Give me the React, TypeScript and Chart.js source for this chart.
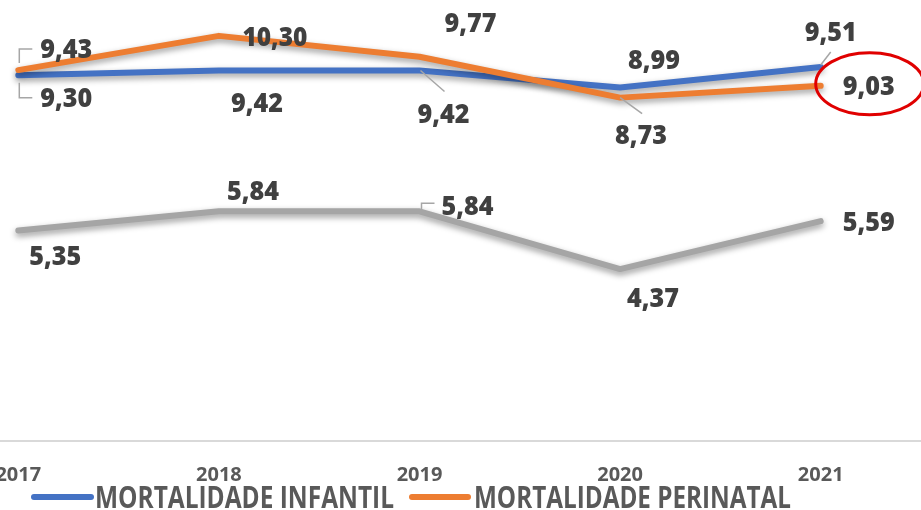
import React, { useEffect, useRef } from "react";
import { Chart, registerables } from "chart.js";

Chart.register(...registerables);

const categories = ["2017", "2018", "2019", "2020", "2021"];
const infantil = [9.3, 9.42, 9.42, 8.99, 9.51];
const perinatal = [9.43, 10.3, 9.77, 8.73, 9.03];
const neonatal = [5.35, 5.84, 5.84, 4.37, 5.59];

const seriesNames = ["MORTALIDADE INFANTIL", "MORTALIDADE PERINATAL", "MORTALIDADE NEONATAL"];
const seriesColors = ["#4472C4", "#ED7D31", "#A5A5A5"];

// label layout (offsets from each point, in px) — styling only
const labelOffsets = [
  [[48, 24], [38, 34], [24, 45], [34, -26], [10, -34]],
  [[48, -20], [56, 2], [51, -32], [21, 39], [48, 1]],
  [[37, 27], [34, -19], [48, -4], [33, 30], [48, 2]],
];
const leaders: (number[][] | null)[][] = [
  [[[1, 7.5], [1, 22.5], [14, 22.5]], null, [[1, 0], [25, 21]], null, [[0, -2], [10, -15]]],
  [[[14, -21], [1, -21], [1, -7]], null, null, [[0, 0], [22, 16]], null],
  [null, null, [[2, -1], [2, -8], [15, -8]], null, null],
];

const fmt = (v: number) => v.toFixed(2).replace(".", ",");

const FONT = "'Open Sans', 'DejaVu Sans', sans-serif";

const decorPlugin = {
  id: "decor",
  beforeDatasetDraw(chart: any) {
    const ctx = chart.ctx;
    ctx.save();
    ctx.shadowColor = "rgba(0,0,0,0.4)";
    ctx.shadowBlur = 6;
    ctx.shadowOffsetY = 3;
  },
  afterDatasetDraw(chart: any) {
    chart.ctx.restore();
  },
  afterDatasetsDraw(chart: any) {
    const ctx = chart.ctx;
    ctx.save();
    chart.data.datasets.forEach((ds: any, di: number) => {
      const meta = chart.getDatasetMeta(di);
      meta.data.forEach((pt: any, i: number) => {
        const lead = leaders[di][i];
        if (lead) {
          ctx.beginPath();
          ctx.strokeStyle = "#A6A6A6";
          ctx.lineWidth = 1.5;
          lead.forEach((p, k) => {
            if (k === 0) ctx.moveTo(pt.x + p[0], pt.y + p[1]);
            else ctx.lineTo(pt.x + p[0], pt.y + p[1]);
          });
          ctx.stroke();
        }
        const [dx, dy] = labelOffsets[di][i];
        const txt = fmt(ds.data[i]);
        ctx.font = `800 27px ${FONT}`;
        ctx.fillStyle = "#404040";
        ctx.textAlign = "center";
        ctx.textBaseline = "middle";
        const w = ctx.measureText(txt).width;
        const target = txt.length > 4 ? 65 : 52;
        ctx.save();
        ctx.translate(pt.x + dx, pt.y + dy);
        ctx.scale(Math.min(1.05, target / w), 1);
        ctx.fillText(txt, 0, 0);
        ctx.restore();
      });
    });
    // red highlight ellipse around last perinatal label
    const m = chart.getDatasetMeta(1);
    const last = m.data[m.data.length - 1];
    ctx.beginPath();
    ctx.strokeStyle = "#E00000";
    ctx.lineWidth = 3;
    ctx.ellipse(last.x + 49, last.y - 2, 54, 31, 0, 0, Math.PI * 2);
    ctx.stroke();
    ctx.restore();
  },
  afterDraw(chart: any) {
    const ctx = chart.ctx;
    ctx.save();
    const ox = 82;
    const items = [
      { name: seriesNames[0], color: seriesColors[0], l0: 34, l1: 91, t0: 95, t1: 394 },
      { name: seriesNames[1], color: seriesColors[1], l0: 412, l1: 468, t0: 474, t1: 791 },
    ];
    const cy = 528;
    items.forEach((it) => {
      ctx.beginPath();
      ctx.strokeStyle = it.color;
      ctx.lineWidth = 6;
      ctx.lineCap = "round";
      ctx.moveTo(it.l0 + ox, cy);
      ctx.lineTo(it.l1 + ox, cy);
      ctx.stroke();
      ctx.font = `bold 30px ${FONT}`;
      ctx.fillStyle = "#595959";
      ctx.textAlign = "left";
      ctx.textBaseline = "alphabetic";
      const w = ctx.measureText(it.name).width;
      const sx = (it.t1 - it.t0) / w;
      ctx.save();
      ctx.translate(it.t0 + ox, cy + 10.5);
      ctx.scale(sx, 1);
      ctx.fillText(it.name, 0, 0);
      ctx.restore();
    });
    ctx.restore();
  },
};

export default function App() {
  const ref = useRef<HTMLCanvasElement>(null);
  useEffect(() => {
    if (!ref.current) return;
    const mk = (label: string, data: number[], color: string, order: number) => ({
      label,
      data,
      borderColor: color,
      backgroundColor: color,
      borderWidth: 6,
      pointRadius: 0,
      pointHoverRadius: 0,
      tension: 0,
      borderCapStyle: "round",
      borderJoinStyle: "round",
      fill: false,
      order,
    });
    const chart = new Chart(ref.current, {
      type: "line",
      data: {
        labels: categories,
        datasets: [
          mk(seriesNames[0], infantil, seriesColors[0], 2),
          mk(seriesNames[1], perinatal, seriesColors[1], 1),
          mk(seriesNames[2], neonatal, seriesColors[2], 3),
        ] as any,
      },
      options: {
        responsive: false,
        animation: false,
        layout: { padding: 0 },
        plugins: { legend: { display: false }, tooltip: { enabled: false } },
        scales: {
          x: {
            offset: true,
            grid: { display: false, drawTicks: false },
            border: { display: true, color: "#D9D9D9", width: 2 },
            ticks: {
              color: "#595959",
              font: { family: FONT, weight: "bold", size: 20 },
              padding: 22,
              maxRotation: 0,
              autoSkip: false,
            },
            afterFit: (s: any) => {
              s.height = 69;
            },
          },
          y: { display: false, min: 0, max: 12 },
        },
      } as any,
      plugins: [decorPlugin],
    });
    return () => chart.destroy();
  }, []);
  return (
    <div style={{ position: "absolute", left: -82, top: -31, width: 1003, height: 541 }}>
      <canvas ref={ref} width={1003} height={541} style={{ display: "block" }} />
    </div>
  );
}
